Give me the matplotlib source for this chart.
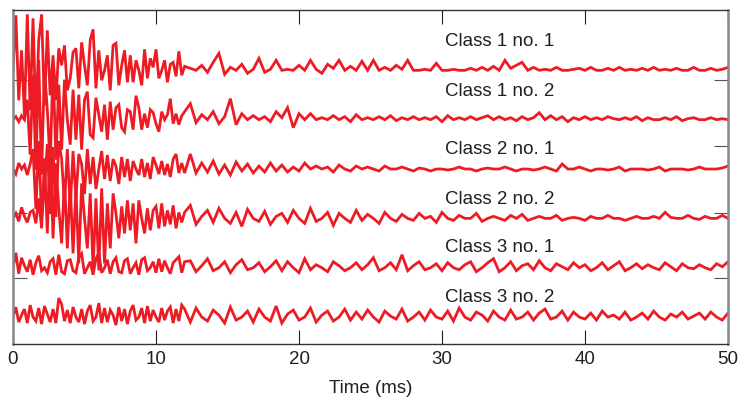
import numpy as np
import matplotlib
matplotlib.use("Agg")
import matplotlib.pyplot as plt

plt.rcParams['font.family'] = ['Liberation Sans', 'DejaVu Sans']

# ---- data (amplitudes in pixel-like units, positive = up) ----
t_early = np.round(np.arange(0, 12.0001, 0.2), 2)      # 61 samples
t_late = np.round(np.arange(12.4, 50.0001, 0.4), 2)     # 95 samples

labels = ["Class 1 no. 1", "Class 1 no. 2", "Class 2 no. 1",
          "Class 2 no. 2", "Class 3 no. 1", "Class 3 no. 2"]

c1n1_early = [0, 55, -30, 20, -45, 56, -40, 52, -50, 30, 56, -35, 40, -25, 15, -30, 22, 5, 25, -20,
              -8, 18, 22, -18, 28, 5, -15, 30, 41, -18, 20, -10, 0, 15, -20, 25, 27, -15, 5, 20,
              -12, 15, -12, 10, 0, -15, 21, -8, 12, 3, 21, -8, 0, 10, -12, 6, 8, -6, 19, -5, 4]
c1n1_late = [2, 0, 5, -2, 8, 17, -4, 3, 0, 6,
             -3, 1, 12, -2, 1, 10, 0, 1, 0, 5,
             0, 10, 1, -3, 6, 2, 10, 0, 4, 0,
             9, 0, 10, 0, 3, 0, 5, 1, 10, 0,
             0, 1, 0, 7, 0, 0, 1, 0, 0, 2,
             0, 3, 0, 4, 0, 10, 2, 5, 8, 0,
             3, 0, 1, 0, 3, 0, 0, 1, 2, 0,
             3, 0, 0, 2, 0, 3, 0, 1, 0, 2,
             0, 3, 0, 1, 0, 2, 0, 0, 3, 0,
             0, 2, 0, 1, 3]

c1n2_early = [0, 3, -2, 4, 0, 20, -35, 45, -50, 60, -55, 50, 10, -45, 55, -40, 35, -30, 40, 0,
              -25, 30, -20, 25, -30, 20, 28, -15, -18, 22, 5, -12, 15, -20, 18, -10, 12, 15, -8, -12,
              10, 8, -10, 24, 12, -10, 6, -8, 10, 7, -4, -12, 8, 0, 5, 21, -4, 6, -5, 4, 8]
c1n2_late = [16, -3, 5, 0, 8, -4, 3, 21, -5, 6,
             0, 4, 0, 3, -2, 8, 2, 12, -8, 6,
             0, 6, 0, 2, 0, 4, 0, 3, -2, 5,
             0, 2, 0, 3, 0, 4, -1, 2, 0, 3,
             0, 2, 0, 3, -2, 4, 0, 2, 0, 3,
             0, 2, 4, 0, 3, 0, 2, -1, 3, 0,
             2, 7, 0, 4, 0, 3, -2, 2, 0, 3,
             0, 2, 0, 3, 1, 0, 2, 0, 3, -1,
             2, 0, 0, 2, 0, 3, -1, 1, 2, 0,
             0, 2, 0, 1, 0]

c2n1_early = [0, -5, 6, 0, 4, -6, 5, 20, -40, 28, -50, -20, 25, -45, 22, -48, 28, 10, -35, 20,
              -40, 18, -30, 15, 5, -25, 20, -15, 12, -20, 0, 18, -10, 14, -12, 10, 3, -15, 12, -8,
              10, -12, 8, 0, -6, 10, -8, 6, -10, 12, 4, -5, 8, -6, 5, -8, 10, 15, -4, 6, -4]
c2n1_late = [15, -4, 6, -3, 8, -5, 4, -6, 7, -2,
             5, -4, 3, -3, 6, -2, 4, -3, 2, -2,
             6, 0, 3, 0, 2, -3, 4, 0, -2, 3,
             0, 2, 0, -2, 3, 0, 0, 2, 0, -2,
             1, 0, -2, 0, 0, -1, 0, 2, 0, 0,
             -2, 0, 1, 0, 0, 2, 0, -2, 0, 0,
             -1, 0, 2, 0, -2, 5, 0, 0, 2, 0,
             -2, 0, 0, -1, 0, 2, -2, 0, 0, 0,
             -1, 0, 2, -2, 0, 0, 0, -1, 0, 2,
             0, 0, 0, 1, 3]

c2n2_early = [0, 5, -3, 11, 2, -4, 6, 8, -5, 20, -10, 60, -15, 73, -20, 55, 10, -25, 40, -30,
              35, -35, 30, -45, 35, 0, -30, 25, -50, 20, -52, 30, -45, 15, -30, 25, 5, -20, 12, -15,
              18, -12, 15, -25, 18, 0, -15, 10, -12, 8, 12, -10, 15, -8, 8, -6, 13, -10, 6, -4, 6]
c2n2_late = [13, -6, 2, 8, -4, 10, 0, -5, 6, -8,
             9, 0, -3, 7, -6, 2, 5, -4, 8, 0,
             -5, 10, -3, 0, 6, -7, 5, 0, -4, 8,
             -2, 4, 0, -5, 6, 0, -3, 4, 0, -2,
             5, 0, 2, -4, 6, 0, -2, 3, 0, 0,
             5, -3, 0, 2, 0, -2, 3, 0, 4, -2,
             0, 2, 0, 0, 3, -2, 0, 1, 0, -2,
             2, 0, 0, 3, 0, 0, -2, 0, 2, 0,
             0, 2, 0, 6, 1, 0, 0, 3, 0, -1,
             2, 0, 0, 3, 0]

c3n1_early = [0, 15, -6, 10, 2, -4, 8, -7, 5, 12, -3, 0, -5, 6, 9, -7, 13, -4, -6, 7,
              8, -3, -5, 10, 14, -6, 0, 6, -7, 9, 15, -5, 0, 8, -6, 6, 10, -4, -5, 7,
              9, -6, 0, 5, -7, 8, 10, -3, 0, 6, -5, 9, -4, 7, 0, -6, 5, 8, 11, -5, 6]
c3n1_late = [7, -4, 2, 9, -3, 0, 6, -5, 3, 8,
             -2, 0, 5, -4, 1, 7, -3, 6, 0, -5,
             9, -2, 3, 0, -4, 6, 2, -3, 0, 5,
             -2, 3, 10, -3, 0, 5, -2, 13, -3, 2,
             6, -2, 0, 4, -3, 5, 0, -2, 3, 6,
             -4, 0, 5, 9, -4, 0, 6, -3, 2, 4,
             -2, 7, 0, -3, 4, 1, -2, 5, 0, 3,
             -3, 0, 5, -2, 2, 6, -3, 0, 4, -1,
             3, 0, -2, 5, 1, -3, 4, 0, -1, 3,
             0, -2, 4, 1, 6]

c3n2_early = [0, 10, -5, 2, 8, -6, 12, 0, -4, 9, -7, 11, 3, -5, 8, -6, 19, 13, -4, 7,
              -6, 10, 0, -5, 8, -7, 6, 12, -4, 0, 14, -6, 9, -5, 7, 2, -8, 10, -4, 8,
              -7, 6, 12, -3, 0, 9, -6, 11, -4, 7, 0, -5, 9, -3, 6, 10, -6, 8, -4, 12, 8]
c3n2_late = [-5, 9, 0, -4, 7, 2, -6, 10, -3, 0,
             6, -5, 8, 0, -4, 11, -6, 3, 7, -3,
             0, 9, -5, 2, 6, -4, 0, 8, -3, 5,
             -2, 7, 0, -5, 6, 1, -2, 8, -4, 0,
             5, -3, 7, 0, -2, 6, -4, 9, 0, -3,
             5, 2, -4, 6, 0, -3, 7, -2, 0, 5,
             -3, 4, 8, -2, 0, 6, -3, 5, 0, -2,
             4, -3, 6, 0, 2, -2, 5, -3, 0, 4,
             -2, 6, 0, -3, 3, 0, 5, -2, 1, 4,
             -2, 5, 0, -3, 4]

x_ticks = [0, 10, 20, 30, 40, 50]

series = [(c1n1_early, c1n1_late), (c1n2_early, c1n2_late),
          (c2n1_early, c2n1_late), (c2n2_early, c2n2_late),
          (c3n1_early, c3n1_late), (c3n2_early, c3n2_late)]

# ---- layout / style ----
W, H = 738, 400
fig = plt.figure(figsize=(W / 100, H / 100), dpi=100)
ax_l, ax_r, ax_t, ax_b = 13, 728, 10, 344
ax = fig.add_axes([ax_l / W, 1 - ax_b / H, (ax_r - ax_l) / W, (ax_b - ax_t) / H])

px_per_unit = 49.85
ymax = (ax_b - ax_t) / px_per_unit
baselines = [5.49, 4.50, 3.51, 2.52, 1.53, 0.54]
label_px = [42, 92, 149, 200, 248, 298]
red = '#ED1C24'

t_all = np.concatenate([t_early, t_late])
for (early, late), base in zip(series, baselines):
    amp = np.concatenate([np.asarray(early, float), np.asarray(late, float)])
    ax.plot(t_all, base + amp / px_per_unit, color=red, lw=2.0, solid_joinstyle='miter')

for lab, py in zip(labels, label_px):
    ax.text((445 - ax_l) / (ax_r - ax_l), (ax_b - py) / (ax_b - ax_t), lab,
            transform=ax.transAxes, ha='left', va='center', fontsize=13.5, color='#231F20')

ax.set_xlim(0, 50)
ax.set_ylim(0, ymax)
ax.set_xticks(x_ticks)
ax.set_xticklabels([str(v) for v in x_ticks])
ax.set_yticks([(ax_b - p) / px_per_unit for p in [80, 146, 213, 278]])
ax.set_yticklabels([])
ax.tick_params(axis='x', direction='in', length=10, width=0.8, top=True, bottom=True,
               labelsize=13.5, pad=5, colors='#231F20')
ax.tick_params(axis='y', direction='in', length=10, width=0.8, left=True, right=True,
               colors='#555555')
ax.set_xlabel("Time (ms)", fontsize=13.5, labelpad=9, color='#231F20')
for side in ['top', 'bottom']:
    ax.spines[side].set_color('#333333')
    ax.spines[side].set_linewidth(1.0)
for side in ['left', 'right']:
    ax.spines[side].set_color('#888888')
    ax.spines[side].set_linewidth(1.8)

fig.savefig("out.png", dpi=100)
